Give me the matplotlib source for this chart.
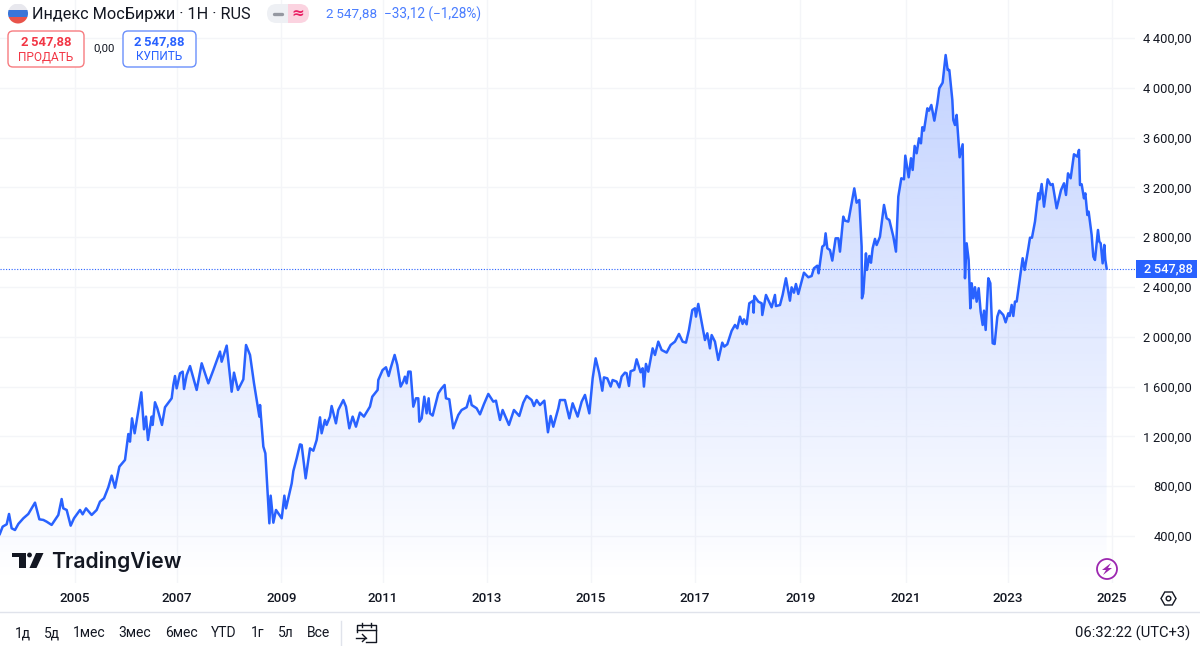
import numpy as np
import matplotlib
matplotlib.use("Agg")
import matplotlib.pyplot as plt
from matplotlib.patches import Circle, FancyBboxPatch, Polygon, Rectangle, RegularPolygon

plt.rcParams['font.family'] = ['Roboto', 'DejaVu Sans']

# weekly closes (decimal year, index value)
years = [
    2003.55, 2003.605, 2003.683, 2003.728, 2003.779, 2003.843, 2003.908, 2004.004, 2004.100, 2004.229,
    2004.313, 2004.390, 2004.454, 2004.550, 2004.679, 2004.743, 2004.775, 2004.840, 2004.917, 2004.981,
    2005.097, 2005.148, 2005.213, 2005.322, 2005.418, 2005.483, 2005.560, 2005.643, 2005.708, 2005.772,
    2005.856, 2005.965, 2006.029, 2006.061, 2006.100, 2006.151, 2006.280, 2006.331, 2006.370, 2006.408,
    2006.479, 2006.498, 2006.543, 2006.588, 2006.678, 2006.736, 2006.865, 2006.897, 2006.929, 2006.961,
    2007.026, 2007.077, 2007.103, 2007.154, 2007.219, 2007.347, 2007.444, 2007.572, 2007.669, 2007.797,
    2007.829, 2007.926, 2008.022, 2008.067, 2008.144, 2008.247, 2008.299, 2008.376, 2008.453, 2008.556,
    2008.569, 2008.633, 2008.672, 2008.749, 2008.774, 2008.826, 2008.877, 2008.987, 2009.038, 2009.070,
    2009.180, 2009.212, 2009.276, 2009.340, 2009.372, 2009.449, 2009.533, 2009.597, 2009.661, 2009.726,
    2009.757, 2009.821, 2009.853, 2009.918, 2009.950, 2010.033, 2010.078, 2010.175, 2010.226, 2010.291,
    2010.355, 2010.419, 2010.496, 2010.573, 2010.689, 2010.734, 2010.837, 2010.850, 2010.933, 2010.998,
    2011.049, 2011.088, 2011.165, 2011.216, 2011.281, 2011.332, 2011.364, 2011.396, 2011.429, 2011.473,
    2011.525, 2011.576, 2011.621, 2011.641, 2011.686, 2011.737, 2011.782, 2011.821, 2011.846, 2011.898,
    2012.007, 2012.071, 2012.129, 2012.155, 2012.219, 2012.296, 2012.393, 2012.457, 2012.554, 2012.618,
    2012.650, 2012.746, 2012.811, 2012.888, 2012.972, 2013.068, 2013.119, 2013.197, 2013.248, 2013.370,
    2013.466, 2013.569, 2013.646, 2013.711, 2013.807, 2013.852, 2013.904, 2013.968, 2014.052, 2014.122,
    2014.174, 2014.225, 2014.322, 2014.354, 2014.450, 2014.534, 2014.598, 2014.695, 2014.772, 2014.836,
    2014.920, 2014.984, 2015.042, 2015.112, 2015.170, 2015.202, 2015.267, 2015.331, 2015.369, 2015.446,
    2015.498, 2015.543, 2015.607, 2015.639, 2015.684, 2015.716, 2015.787, 2015.832, 2015.909, 2015.948,
    2015.973, 2016.012, 2016.057, 2016.141, 2016.186, 2016.250, 2016.314, 2016.411, 2016.488, 2016.571,
    2016.649, 2016.719, 2016.784, 2016.841, 2016.906, 2016.957, 2016.976, 2017.021, 2017.150, 2017.195,
    2017.246, 2017.279, 2017.343, 2017.407, 2017.484, 2017.523, 2017.581, 2017.664, 2017.729, 2017.774,
    2017.825, 2017.876, 2017.902, 2017.954, 2018.005, 2018.082, 2018.089, 2018.102, 2018.179, 2018.243,
    2018.256, 2018.327, 2018.436, 2018.500, 2018.519, 2018.597, 2018.648, 2018.712, 2018.789, 2018.821,
    2018.866, 2018.905, 2018.950, 2019.059, 2019.143, 2019.207, 2019.252, 2019.316, 2019.342, 2019.413,
    2019.452, 2019.477, 2019.510, 2019.561, 2019.606, 2019.670, 2019.722, 2019.754, 2019.818, 2019.850,
    2019.915, 2020.030, 2020.075, 2020.127, 2020.172, 2020.178, 2020.204, 2020.255, 2020.274, 2020.320,
    2020.352, 2020.384, 2020.429, 2020.461, 2020.525, 2020.603, 2020.654, 2020.706, 2020.783, 2020.834,
    2020.879, 2020.937, 2020.989, 2021.014, 2021.079, 2021.124, 2021.156, 2021.194, 2021.233, 2021.278,
    2021.316, 2021.342, 2021.374, 2021.439, 2021.471, 2021.516, 2021.574, 2021.632, 2021.670, 2021.734,
    2021.792, 2021.831, 2021.863, 2021.921, 2021.940, 2021.972, 2022.004, 2022.062, 2022.120, 2022.152,
    2022.165, 2022.197, 2022.236, 2022.268, 2022.294, 2022.326, 2022.358, 2022.390, 2022.429, 2022.467,
    2022.506, 2022.532, 2022.564, 2022.615, 2022.654, 2022.699, 2022.737, 2022.789, 2022.827, 2022.904,
    2022.949, 2023.001, 2023.027, 2023.065, 2023.097, 2023.129, 2023.162, 2023.277, 2023.316, 2023.387,
    2023.419, 2023.457, 2023.515, 2023.579, 2023.599, 2023.644, 2023.689, 2023.760, 2023.817, 2023.856,
    2023.933, 2024.017, 2024.075, 2024.113, 2024.152, 2024.203, 2024.267, 2024.332, 2024.364, 2024.383,
    2024.415, 2024.460, 2024.486, 2024.525, 2024.550, 2024.608, 2024.640, 2024.672, 2024.730, 2024.756,
    2024.782, 2024.820, 2024.852, 2024.872, 2024.897,
]
closes = [
    416, 475, 494, 577, 462, 448, 497, 542, 577, 668,
    534, 529, 515, 489, 569, 697, 622, 609, 483, 542,
    609, 574, 622, 569, 609, 676, 703, 791, 885, 788,
    957, 1011, 1219, 1158, 1345, 1225, 1554, 1257, 1359, 1171,
    1359, 1292, 1474, 1426, 1292, 1434, 1506, 1613, 1685, 1586,
    1707, 1720, 1581, 1693, 1765, 1573, 1787, 1626, 1733, 1881,
    1800, 1929, 1559, 1712, 1573, 1658, 1934, 1854, 1626, 1359,
    1452, 1118, 1064, 502, 724, 507, 609, 542, 724, 622,
    823, 922, 1024, 1136, 1131, 863, 1104, 1085, 1171, 1353,
    1225, 1332, 1292, 1359, 1444, 1305, 1412, 1492, 1439, 1265,
    1359, 1278, 1391, 1359, 1439, 1519, 1573, 1653, 1733, 1755,
    1685, 1747, 1854, 1774, 1600, 1640, 1680, 1626, 1720, 1720,
    1439, 1506, 1506, 1318, 1345, 1519, 1385, 1506, 1385, 1367,
    1546, 1586, 1613, 1506, 1498, 1265, 1372, 1412, 1434, 1527,
    1452, 1426, 1377, 1460, 1541, 1479, 1487, 1332, 1412, 1292,
    1412, 1364, 1471, 1525, 1492, 1444, 1492, 1452, 1487, 1233,
    1364, 1278, 1426, 1492, 1492, 1345, 1466, 1359, 1479, 1533,
    1385, 1666, 1827, 1707, 1567, 1674, 1666, 1600, 1653, 1640,
    1594, 1680, 1712, 1707, 1605, 1723, 1734, 1819, 1715, 1747,
    1600, 1782, 1720, 1907, 1854, 1961, 1894, 1873, 1934, 1961,
    2023, 1961, 1953, 2055, 2215, 2229, 2162, 2264, 1974, 2028,
    1907, 2014, 1961, 1814, 1953, 1921, 1940, 2047, 2095, 2068,
    2162, 2103, 2140, 2100, 2269, 2290, 2194, 2328, 2282, 2269,
    2175, 2336, 2237, 2336, 2247, 2255, 2336, 2470, 2290, 2397,
    2354, 2424, 2344, 2515, 2478, 2488, 2550, 2571, 2510, 2724,
    2737, 2831, 2711, 2697, 2612, 2791, 2791, 2684, 2965, 2933,
    2925, 3192, 3077, 3099, 2724, 2309, 2349, 2670, 2537, 2649,
    2595, 2711, 2786, 2737, 2804, 3059, 2952, 2938, 2805, 2684,
    3126, 3273, 3265, 3455, 3281, 3434, 3340, 3533, 3474, 3594,
    3554, 3683, 3656, 3835, 3816, 3862, 3736, 3875, 3996, 4041,
    4263, 4143, 4143, 3902, 3741, 3701, 3782, 3442, 3546, 2778,
    2470, 2751, 2617, 2229, 2430, 2309, 2398, 2282, 2390, 2202,
    2095, 2210, 2055, 2470, 2430, 1948, 1942, 2162, 2210, 2175,
    2116, 2189, 2167, 2256, 2167, 2283, 2283, 2631, 2537, 2711,
    2796, 2796, 2925, 3153, 3104, 3227, 3045, 3265, 3219, 3227,
    3032, 3179, 3233, 3139, 3313, 3273, 3466, 3447, 3501, 3219,
    3225, 3112, 3152, 2978, 3005, 2818, 2644, 2617, 2858, 2764,
    2751, 2590, 2738, 2617, 2547.88,
]

price_ticks = [400, 800, 1200, 1600, 2000, 2400, 2800, 3200, 3600, 4000, 4400]
price_labels = ['400,00', '800,00', '1\u2009200,00', '1\u2009600,00', '2\u2009000,00', '2\u2009400,00',
                '2\u2009800,00', '3\u2009200,00', '3\u2009600,00', '4\u2009000,00', '4\u2009400,00']
# the time axis is bar-indexed, so the year marks are not quite evenly spaced
year_ticks = [2005, 2006.967, 2008.983, 2010.94, 2012.946, 2014.952, 2016.958, 2018.99, 2021.02, 2022.99, 2025]
year_labels = ['2005', '2007', '2009', '2011', '2013', '2015', '2017', '2019', '2021', '2023', '2025']
ranges = ['1д', '5д', '1мес', '3мес', '6мес', 'YTD', '1г', '5л', 'Все']
range_x = [22.5, 52, 89.5, 135, 181, 224, 257.5, 286, 318]

BLUE = '#2962ff'
INK = '#131722'
GRID = '#f4f5f8'
W, H = 1200, 646

fig = plt.figure(figsize=(12, 6.46), dpi=100, facecolor='white')
ax = fig.add_axes([0, 1 - 583 / H, 1135 / W, 583 / H])

# area with vertical gradient, clipped to the polygon under the line
grad = np.zeros((256, 1, 4))
grad[:, :, :3] = matplotlib.colors.to_rgb(BLUE)
grad[:, 0, 3] = np.linspace(0.28, 0.0, 256)
img = ax.imshow(grad, aspect='auto', extent=[2003, 2026, 22, max(closes)], zorder=1, origin='upper')
area = ax.fill_between(years, closes, 22, facecolor='none', edgecolor='none', zorder=1)
img.set_clip_path(area.get_paths()[0], transform=ax.transData)

ax.plot(years, closes, color=BLUE, lw=1.8, solid_joinstyle='round', zorder=3)
ax.axhline(closes[-1], color=BLUE, lw=0.8, ls=(0, (1, 1.5)), zorder=2)

ax.set_xlim(2003.554, 2025.444)
ax.set_ylim(22.5, 4705)
ax.set_xticks(year_ticks)
ax.set_xticklabels(year_labels, fontsize=9.6, color=INK, fontweight='medium')
ax.set_yticks(price_ticks)
ax.set_yticklabels(price_labels, fontsize=9.3, color=INK, ha='right')
ax.yaxis.tick_right()
ax.tick_params(axis='both', length=0)
ax.tick_params(axis='x', pad=6.8)
ax.tick_params(axis='y', pad=41)
ax.grid(True, color=GRID, lw=1)
ax.set_axisbelow(True)
for s in ax.spines.values():
    s.set_visible(False)

# overlay in pixel coordinates for the TradingView furniture
ui = fig.add_axes([0, 0, 1, 1], zorder=5)
ui.set_xlim(0, W)
ui.set_ylim(H, 0)
ui.axis('off')

# flag
flag = Circle((18, 13.5), 10, transform=ui.transData)
for y0, c in [(3.5, '#e8e8ee'), (10, '#3a75d8'), (17, '#e8534a')]:
    r = Rectangle((8, y0), 20, 7, color=c, lw=0)
    ui.add_patch(r)
    r.set_clip_path(flag)

ui.text(32, 14.5, 'Индекс МосБиржи · 1H · RUS', fontsize=11.7, color=INK, va='center')

# market status pill
pill = FancyBboxPatch((267, 4), 42, 19, boxstyle='round,pad=0,rounding_size=9.5', transform=ui.transData)
for x0, w, c in [(267, 21, '#eef0f4'), (288, 21, '#fbd3e0')]:
    r = Rectangle((x0, 4), w, 19, fc=c, lw=0)
    ui.add_patch(r)
    r.set_clip_path(pill)
ui.plot([274, 282], [13.5, 13.5], color='#9598a1', lw=2.4, solid_capstyle='round')
ui.text(298, 13, '≈', fontsize=11, color='#e91e63', ha='center', va='center', family='DejaVu Sans', fontweight='bold')

ui.text(326, 14, '2\u2009547,88', fontsize=9.7, color='#4a7dff', va='center')
ui.text(384, 14, '−33,12 (−1,28%)', fontsize=9.8, color='#4a7dff', va='center')

# sell / buy boxes
ui.add_patch(FancyBboxPatch((8, 31), 76, 36, boxstyle='round,pad=0,rounding_size=5', fc='white', ec='#f77c80', lw=1))
ui.text(46, 42, '2\u2009547,88', fontsize=9.4, color='#f23645', ha='center', va='center', fontweight='bold')
ui.text(46, 57, 'ПРОДАТЬ', fontsize=8.6, color='#f23645', ha='center', va='center')
ui.text(104, 48, '0,00', fontsize=8.2, color=INK, ha='center', va='center')
ui.add_patch(FancyBboxPatch((123, 31), 73, 36, boxstyle='round,pad=0,rounding_size=5', fc='white', ec='#6a8ffb', lw=1))
ui.text(159.5, 42, '2\u2009547,88', fontsize=9.4, color=BLUE, ha='center', va='center', fontweight='bold')
ui.text(159.5, 57, 'КУПИТЬ', fontsize=8.6, color=BLUE, ha='center', va='center')

# last price tag
ui.add_patch(Rectangle((1136, 260), 61, 18, fc=BLUE, lw=0))
ui.text(1193, 269, '2\u2009547,88', fontsize=9.2, color='white', ha='right', va='center', fontweight='medium')

# TradingView logo
ui.add_patch(Polygon([(12, 553), (26, 553), (26, 568), (19, 568), (19, 557), (12, 557)], fc=INK, lw=0))
ui.add_patch(Circle((29.5, 555), 2.4, fc=INK, lw=0))
ui.add_patch(Polygon([(36, 553), (43.5, 553), (36.5, 568), (29.5, 568)], fc=INK, lw=0))
ui.text(51, 562, 'TradingView', fontsize=15.2, color=INK, va='center', family='Inter', fontweight='semibold')

# lightning icon
ui.add_patch(Circle((1107, 569), 10, fc='white', ec='#9c27b0', lw=1.3))
ui.add_patch(Polygon([(1111, 563), (1102, 570), (1106, 570), (1103, 575), (1112, 568), (1108, 568)], fc='#9c27b0', lw=0))

# settings hexagon
ui.add_patch(RegularPolygon((1168.5, 598.5), 6, radius=7.5, orientation=np.pi / 6, fc='none', ec=INK, lw=1))
ui.add_patch(Circle((1168.5, 598.5), 2.3, fc='none', ec=INK, lw=1))

# bottom toolbar
ui.plot([0, W], [612, 612], color='#e0e3eb', lw=1)
ui.plot([341, 341], [621, 645], color='#e0e3eb', lw=1)
for name, x in zip(ranges, range_x):
    ui.text(x, 633, name, fontsize=10, color=INK, ha='center', va='center')
ui.text(1190, 633, '06:32:22 (UTC+3)', fontsize=10.6, color=INK, ha='right', va='center')

# calendar icon
ui.plot([357, 357, 376, 376, 366], [632, 625, 625, 642, 642], color=INK, lw=1)
ui.plot([357, 376], [630, 630], color=INK, lw=1)
ui.plot([362, 362], [622.5, 627], color=INK, lw=1)
ui.plot([371, 371], [622.5, 627], color=INK, lw=1)
ui.plot([356, 366], [638, 638], color=INK, lw=1)
ui.plot([362.5, 366, 362.5], [634.5, 638, 641.5], color=INK, lw=1)

fig.savefig('out.png', dpi=100)
